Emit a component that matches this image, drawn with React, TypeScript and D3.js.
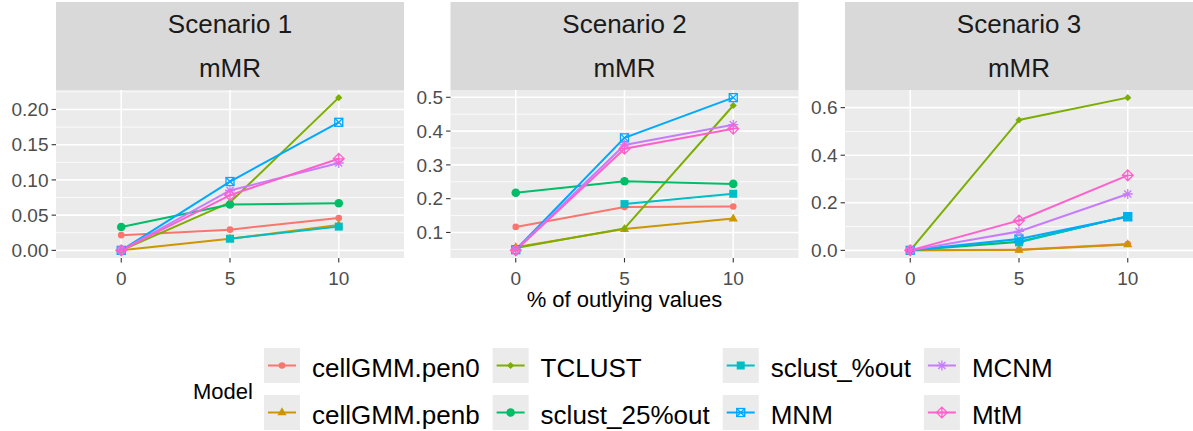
import * as d3 from "d3";

const models = ["cellGMM.pen0", "cellGMM.penb", "TCLUST", "sclust_25%out", "sclust_%out", "MNM", "MCNM", "MtM"];
const modelColors = ["#F8766D", "#CD9600", "#7CAE00", "#00BE67", "#00BFC4", "#00A9FF", "#C77CFF", "#FF61CC"];
const outlyingPct = ["0", "5", "10"];
const scenarioNames = ["Scenario 1", "Scenario 2", "Scenario 3"];
const metricName = "mMR";

// rows follow `models`, columns follow `outlyingPct`; null = not run (sclust_%out at 0%)
const scenario1 = [
  [0.0216, 0.0294, 0.046],
  [0.0, 0.0165, 0.036],
  [0.0, 0.068, 0.2168],
  [0.0332, 0.065, 0.0668],
  [null, 0.0165, 0.0337],
  [0.0, 0.0977, 0.1818],
  [0.0, 0.085, 0.124],
  [0.0, 0.0785, 0.13],
];
const scenario2 = [
  [0.1164, 0.175, 0.177],
  [0.056, 0.11, 0.141],
  [0.054, 0.112, 0.4757],
  [0.2174, 0.2515, 0.2437],
  [null, 0.184, 0.2145],
  [0.049, 0.38, 0.499],
  [0.048, 0.359, 0.419],
  [0.047, 0.348, 0.407],
];
const scenario3 = [
  [0.0, 0.003, 0.027],
  [0.0, 0.002, 0.025],
  [0.0, 0.548, 0.642],
  [0.0, 0.036, 0.143],
  [null, 0.0335, 0.144],
  [0.0, 0.0477, 0.141],
  [0.0, 0.0795, 0.237],
  [0.0, 0.1255, 0.3155],
];

const yTicks1 = [0, 0.05, 0.1, 0.15, 0.2];
const yLabels1 = ["0.00", "0.05", "0.10", "0.15", "0.20"];
const yTicks2 = [0.1, 0.2, 0.3, 0.4, 0.5];
const yLabels2 = ["0.1", "0.2", "0.3", "0.4", "0.5"];
const yTicks3 = [0, 0.2, 0.4, 0.6];
const yLabels3 = ["0.0", "0.2", "0.4", "0.6"];

const xTitle = "% of outlying values";
const legendTitle = "Model";

const W = 1193;
const H = 431;
const FONT = "'Liberation Sans', Arial, Helvetica, sans-serif";

const panelLeft = 56;
const panelW = 348;
const panelGap = 46.5;
const stripTop = 2;
const panelTop = 90;
const panelBottom = 258;
const lineW = 2;

type Val = number | null;

function Glyph({ shape, x, y, color }: { shape: number; x: number; y: number; color: string }) {
  switch (shape) {
    case 0:
      return <circle cx={x} cy={y} r={3.3} fill={color} />;
    case 1:
      return <path d={`M${x},${y - 5.2}L${x + 4.6},${y + 2.8}L${x - 4.6},${y + 2.8}Z`} fill={color} />;
    case 2:
      return <path d={`M${x},${y - 3.6}L${x + 3.6},${y}L${x},${y + 3.6}L${x - 3.6},${y}Z`} fill={color} />;
    case 3:
      return <circle cx={x} cy={y} r={4.3} fill={color} />;
    case 4:
      return <rect x={x - 4} y={y - 4} width={8} height={8} fill={color} />;
    case 5:
      return (
        <g stroke={color} strokeWidth={1.3} fill="none">
          <rect x={x - 4} y={y - 4} width={8} height={8} />
          <path d={`M${x - 4},${y - 4}L${x + 4},${y + 4}M${x + 4},${y - 4}L${x - 4},${y + 4}`} />
        </g>
      );
    case 6: {
      const r = 5;
      const d = r * Math.SQRT1_2;
      return (
        <path
          d={`M${x - r},${y}L${x + r},${y}M${x},${y - r}L${x},${y + r}M${x - d},${y - d}L${x + d},${y + d}M${x + d},${y - d}L${x - d},${y + d}`}
          stroke={color}
          strokeWidth={1.3}
          fill="none"
        />
      );
    }
    default: {
      const r = 5.4;
      return (
        <path
          d={`M${x},${y - r}L${x + r},${y}L${x},${y + r}L${x - r},${y}ZM${x - r},${y}L${x + r},${y}M${x},${y - r}L${x},${y + r}`}
          stroke={color}
          strokeWidth={1.3}
          fill="none"
        />
      );
    }
  }
}

function Panel({ index, values, ticks, labels }: { index: number; values: Val[][]; ticks: number[]; labels: string[] }) {
  const px = panelLeft + index * (panelW + panelGap);

  const x = d3.scalePoint<string>().domain(outlyingPct).range([px, px + panelW]).padding(0.6);

  const all = values.flat().filter((v): v is number => v != null);
  const lo = d3.min(all) as number;
  const hi = d3.max(all) as number;
  const pad = (hi - lo) * 0.05;
  const y = d3.scaleLinear().domain([lo - pad, hi + pad]).range([panelBottom, panelTop]);

  // minor gridlines halfway between the majors
  const step = ticks[1] - ticks[0];
  const minor: number[] = [];
  for (let i = -1; i < ticks.length; i++) {
    const v = ticks[0] + (i + 0.5) * step;
    if (v >= lo - pad && v <= hi + pad) minor.push(v);
  }

  const line = d3
    .line<Val>()
    .defined((d) => d != null)
    .x((_, i) => x(outlyingPct[i]) as number)
    .y((d) => y(d as number));

  return (
    <g>
      <rect x={px} y={stripTop} width={panelW} height={panelTop - stripTop} fill="#D9D9D9" />
      <text x={px + panelW / 2} y={33} textAnchor="middle" fontSize={26} fill="#1A1A1A">
        {scenarioNames[index]}
      </text>
      <text x={px + panelW / 2} y={77} textAnchor="middle" fontSize={26} fill="#1A1A1A">
        {metricName}
      </text>

      <rect x={px} y={panelTop} width={panelW} height={panelBottom - panelTop} fill="#EBEBEB" />
      {minor.map((v) => (
        <line key={"mi" + v} x1={px} x2={px + panelW} y1={y(v)} y2={y(v)} stroke="#fff" strokeWidth={0.8} />
      ))}
      {ticks.map((v) => (
        <line key={"ma" + v} x1={px} x2={px + panelW} y1={y(v)} y2={y(v)} stroke="#fff" strokeWidth={1.6} />
      ))}
      {outlyingPct.map((p) => (
        <line key={"vx" + p} x1={x(p)} x2={x(p)} y1={panelTop} y2={panelBottom} stroke="#fff" strokeWidth={1.6} />
      ))}

      {values.map((row, m) => (
        <path key={"l" + m} d={line(row) as string} fill="none" stroke={modelColors[m]} strokeWidth={lineW} />
      ))}
      {values.map((row, m) =>
        row.map((v, j) =>
          v == null ? null : (
            <Glyph key={"p" + m + "-" + j} shape={m} x={x(outlyingPct[j]) as number} y={y(v)} color={modelColors[m]} />
          )
        )
      )}

      {ticks.map((v, i) => (
        <g key={"yt" + v}>
          <line x1={px - 4.4} x2={px} y1={y(v)} y2={y(v)} stroke="#333" strokeWidth={1.1} />
          <text x={px - 7.5} y={y(v)} dy="0.35em" textAnchor="end" fontSize={19} fill="#4D4D4D">
            {labels[i]}
          </text>
        </g>
      ))}
      {outlyingPct.map((p) => (
        <g key={"xt" + p}>
          <line x1={x(p)} x2={x(p)} y1={panelBottom} y2={panelBottom + 4.4} stroke="#333" strokeWidth={1.1} />
          <text x={x(p)} y={285} textAnchor="middle" fontSize={19} fill="#4D4D4D">
            {p}
          </text>
        </g>
      ))}
    </g>
  );
}

function measure(text: string, size: number) {
  const ctx = document.createElement("canvas").getContext("2d");
  if (!ctx) return text.length * size * 0.55;
  ctx.font = `${size}px ${FONT}`;
  return ctx.measureText(text).width;
}

function Legend() {
  const keyW = 36;
  const keyH = 35;
  const rowsY = [348, 395];
  const labelSize = 26;
  const cols = 4;
  const items = [];
  let cx = 264;
  for (let c = 0; c < cols; c++) {
    const a = c * 2;
    const colW = Math.max(measure(models[a], labelSize), measure(models[a + 1], labelSize));
    for (let r = 0; r < 2; r++) {
      const m = a + r;
      const ky = rowsY[r];
      items.push(
        <g key={"lg" + m}>
          <rect x={cx} y={ky} width={keyW} height={keyH} fill="#EBEBEB" />
          <line x1={cx + 4} x2={cx + keyW - 4} y1={ky + keyH / 2} y2={ky + keyH / 2} stroke={modelColors[m]} strokeWidth={lineW} />
          <Glyph shape={m} x={cx + keyW / 2} y={ky + keyH / 2} color={modelColors[m]} />
          <text x={cx + keyW + 12} y={ky + 29} fontSize={labelSize} fill="#000">
            {models[m]}
          </text>
        </g>
      );
    }
    cx += keyW + 12 + colW + 13;
  }
  return (
    <g>
      <text x={193} y={399} fontSize={22} fill="#000">
        {legendTitle}
      </text>
      {items}
    </g>
  );
}

export default function App() {
  const panels = [
    { values: scenario1, ticks: yTicks1, labels: yLabels1 },
    { values: scenario2, ticks: yTicks2, labels: yLabels2 },
    { values: scenario3, ticks: yTicks3, labels: yLabels3 },
  ];
  return (
    <svg
      width={W}
      height={H}
      viewBox={`0 0 ${W} ${H}`}
      style={{ position: "absolute", left: 0, top: 0, background: "#fff" }}
      fontFamily={FONT}
    >
      <rect width={W} height={H} fill="#fff" />
      {panels.map((p, i) => (
        <Panel key={i} index={i} values={p.values} ticks={p.ticks} labels={p.labels} />
      ))}
      <text x={panelLeft + panelW + panelGap + panelW / 2} y={307} textAnchor="middle" fontSize={22} fill="#000">
        {xTitle}
      </text>
      <Legend />
    </svg>
  );
}
